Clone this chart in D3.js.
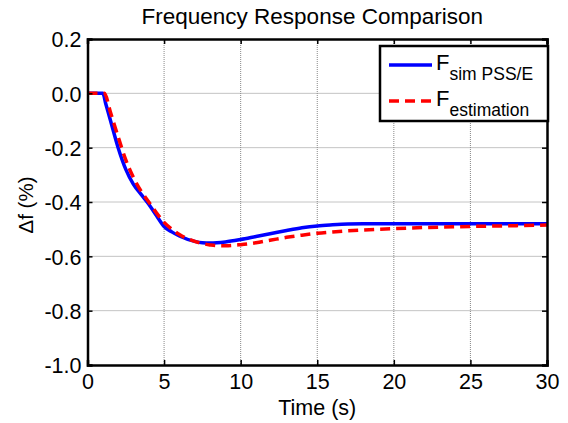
<!DOCTYPE html>
<html><head><meta charset="utf-8">
<script src="https://cdn.jsdelivr.net/npm/d3@7"></script>
<style>body{margin:0;background:#fff}text{font-family:"Liberation Sans",Arial,sans-serif}</style>
</head><body><svg id="c" width="568" height="423"></svg>
<script>
const title = "Frequency Response Comparison";
const xLabel = "Time (s)";
const yLabel = "\u0394f (%)";
const xTicks = [0,5,10,15,20,25,30];
const yTicks = [0.2,0.0,-0.2,-0.4,-0.6,-0.8,-1.0];
const simT = [0,1,1.2,1.5,2,2.5,3,3.5,4,4.5,5,5.5,6,7,7.5,8,9,10,11,12,13,14,15,16,17,18,20,25,30];
const simV = [0,0,-0.04,-0.1,-0.2,-0.28,-0.335,-0.372,-0.408,-0.45,-0.49,-0.51,-0.525,-0.545,-0.55,-0.551,-0.547,-0.538,-0.527,-0.516,-0.505,-0.495,-0.488,-0.484,-0.481,-0.48,-0.48,-0.48,-0.48];
const estT = [0,1.1,1.5,2,2.5,3,3.5,4,4.5,5,5.5,6,7,8,8.5,9,10,11,12,13,14,15,16,18,20,22,25,28,30];
const estV = [0,0,-0.07,-0.16,-0.245,-0.31,-0.36,-0.4,-0.44,-0.475,-0.5,-0.52,-0.545,-0.558,-0.561,-0.561,-0.557,-0.55,-0.54,-0.53,-0.522,-0.515,-0.51,-0.503,-0.498,-0.494,-0.49,-0.487,-0.485];
const seriesNames = ["sim PSS/E","estimation"];

const svg = d3.select("#c");
const L=87.5,R=547,T=39,B=365;
const x = d3.scaleLinear().domain([0,30]).range([L,R]);
const y = d3.scaleLinear().domain([-1,0.2]).range([B,T]);

// grid
const g = svg.append("g");
g.selectAll(".gx").data(xTicks.slice(1,-1)).enter().append("line")
 .attr("x1",d=>x(d)).attr("x2",d=>x(d)).attr("y1",T).attr("y2",B)
 .attr("stroke","#888").attr("stroke-width",1).attr("stroke-dasharray","1,1");
g.selectAll(".gy").data(yTicks.slice(1,-1)).enter().append("line")
 .attr("y1",d=>y(d)).attr("y2",d=>y(d)).attr("x1",L).attr("x2",R)
 .attr("stroke","#888").attr("stroke-width",1).attr("stroke-dasharray","1,1");

// data
const line = d3.line().x(d=>x(d[0])).y(d=>y(d[1])).curve(d3.curveMonotoneX);
svg.append("path").datum(simT.map((t,i)=>[t,simV[i]])).attr("d",line)
 .attr("fill","none").attr("stroke","#0000ff").attr("stroke-width",3.5);
svg.append("path").datum(estT.map((t,i)=>[t,estV[i]])).attr("d",line)
 .attr("fill","none").attr("stroke","#ff0000").attr("stroke-width",3.5).attr("stroke-dasharray","10,6");

// axes
const fs = 21.5;
const hy = f => (v => f(v).replace("\u2212","-"));
const ax = svg.append("g").attr("transform",`translate(0,${B})`)
 .call(d3.axisBottom(x).tickValues(xTicks).tickSize(-5).tickPadding(9).tickFormat(d3.format("d")));
const axT = svg.append("g").attr("transform",`translate(0,${T})`)
 .call(d3.axisTop(x).tickValues(xTicks).tickSize(-5).tickFormat(""));
const ay = svg.append("g").attr("transform",`translate(${L},0)`)
 .call(d3.axisLeft(y).tickValues(yTicks).tickSize(-5).tickPadding(6).tickFormat(hy(d3.format(".1f"))));
const ayR = svg.append("g").attr("transform",`translate(${R},0)`)
 .call(d3.axisRight(y).tickValues(yTicks).tickSize(-5).tickFormat(""));
[ax,axT,ay,ayR].forEach(a=>{
  a.select(".domain").attr("stroke","#000").attr("stroke-width",2.5);
  a.selectAll(".tick line").attr("stroke","#000").attr("stroke-width",1.5);
  a.selectAll("text").attr("font-size",fs).attr("fill","#000").attr("font-family","Liberation Sans, Arial, sans-serif");
});
ax.selectAll("text").attr("dy","0.71em");
ay.selectAll("text").attr("dy","0.36em");

svg.append("text").attr("x",(L+R)/2-5).attr("y",24).attr("text-anchor","middle").attr("font-size",22.5).text(title);
svg.append("text").attr("x",(L+R)/2).attr("y",415).attr("text-anchor","middle").attr("font-size",21.5).text(xLabel);
svg.append("text").attr("transform","translate(33,205) rotate(-90)").attr("text-anchor","middle").attr("font-size",20.5).text(yLabel);

// legend
const lg = svg.append("g");
lg.append("rect").attr("x",380).attr("y",46).attr("width",168).attr("height",75).attr("fill","#fff").attr("stroke","#000").attr("stroke-width",2.5);
const ly=[65,101];
const cols=["#0000ff","#ff0000"];
seriesNames.forEach((n,i)=>{
  lg.append("line").attr("x1",389).attr("x2",432).attr("y1",ly[i]).attr("y2",ly[i])
   .attr("stroke",cols[i]).attr("stroke-width",3.5).attr("stroke-dasharray",i?"10,6":null);
  const t = lg.append("text").attr("x",436).attr("y",ly[i]+5).attr("font-size",22);
  t.append("tspan").text("F");
  t.append("tspan").attr("font-size",17.5).attr("dy",10).text(n);
});
</script></body></html>
